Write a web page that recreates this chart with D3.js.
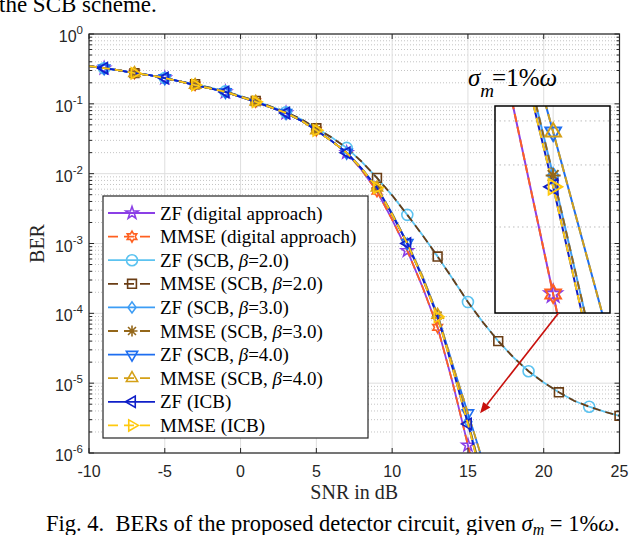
<!DOCTYPE html>
<html>
<head>
<meta charset="utf-8">
<script src="https://cdn.jsdelivr.net/npm/d3@7"></script>
<style>
  body { margin: 0; background: #fff; }
  svg { display: block; }
</style>
</head>
<body>
<div id="chart"></div>
<script>
// tick values
var xTicks = [-10, -5, 0, 5, 10, 15, 20, 25];
var yTickExp = [0, -1, -2, -3, -4, -5, -6];

// SNR points of the steep curves (dB)
var snrA = [-10, -9, -8, -7, -6, -5, -4, -3, -2, -1, 0, 1, 2, 3, 4, 5, 6, 7, 8, 9, 10, 11, 12, 13, 14, 15, 16];
// SNR points of the beta=2 curves (dB)
var snrB = [-10, -9, -8, -7, -6, -5, -4, -3, -2, -1, 0, 1, 2, 3, 4, 5, 6, 7, 8, 9, 10, 11, 12, 13, 14, 15, 16, 17, 18, 19, 20, 21, 22, 23, 24, 25];

// BER values
var berZfDigital   = [0.347, 0.324, 0.302, 0.275, 0.257, 0.234, 0.209, 0.186, 0.166, 0.148, 0.126, 0.107, 0.0891, 0.0741, 0.0575, 0.0417, 0.0295, 0.0200, 0.0112, 5.6e-3, 2.2e-3, 7.9e-4, 2.4e-4, 6.3e-5, 1.0e-5, 1.29e-6, 1.6e-7];
var berMmseDigital = [0.347, 0.324, 0.302, 0.275, 0.257, 0.234, 0.209, 0.186, 0.166, 0.148, 0.126, 0.107, 0.0891, 0.0741, 0.0575, 0.0417, 0.0295, 0.0200, 0.0112, 5.6e-3, 2.2e-3, 7.9e-4, 2.4e-4, 6.3e-5, 1.0e-5, 1.29e-6, 1.6e-7];
var berZfB2   = [0.347, 0.324, 0.302, 0.275, 0.257, 0.234, 0.209, 0.191, 0.170, 0.151, 0.129, 0.110, 0.0912, 0.0759, 0.0603, 0.0447, 0.0331, 0.0234, 0.0148, 8.7e-3, 4.9e-3, 2.57e-3, 1.32e-3, 6.5e-4, 3.1e-4, 1.45e-4, 7.4e-5, 4.0e-5, 2.34e-5, 1.48e-5, 1.02e-5, 7.4e-6, 5.6e-6, 4.6e-6, 3.9e-6, 3.4e-6];
var berMmseB2 = [0.347, 0.324, 0.302, 0.275, 0.257, 0.234, 0.209, 0.191, 0.170, 0.151, 0.129, 0.110, 0.0912, 0.0759, 0.0603, 0.0447, 0.0331, 0.0234, 0.0148, 8.7e-3, 4.9e-3, 2.57e-3, 1.32e-3, 6.5e-4, 3.1e-4, 1.45e-4, 7.4e-5, 4.0e-5, 2.34e-5, 1.48e-5, 1.02e-5, 7.4e-6, 5.6e-6, 4.6e-6, 3.9e-6, 3.4e-6];
var berZfB3   = [0.347, 0.324, 0.302, 0.275, 0.257, 0.234, 0.209, 0.186, 0.166, 0.148, 0.126, 0.107, 0.0891, 0.0741, 0.0575, 0.0417, 0.0295, 0.0200, 0.0117, 6.3e-3, 2.6e-3, 1.0e-3, 3.24e-4, 9.3e-5, 1.7e-5, 2.8e-6, 4.2e-7];
var berMmseB3 = [0.347, 0.324, 0.302, 0.275, 0.257, 0.234, 0.209, 0.186, 0.166, 0.148, 0.126, 0.107, 0.0891, 0.0741, 0.0575, 0.0417, 0.0295, 0.0200, 0.0117, 6.3e-3, 2.6e-3, 1.0e-3, 3.24e-4, 9.3e-5, 1.7e-5, 2.8e-6, 4.2e-7];
var berZfB4   = [0.347, 0.324, 0.302, 0.275, 0.257, 0.234, 0.209, 0.186, 0.166, 0.148, 0.126, 0.107, 0.0891, 0.0741, 0.0575, 0.0417, 0.0295, 0.0200, 0.0117, 6.3e-3, 2.7e-3, 1.02e-3, 3.4e-4, 9.5e-5, 1.82e-5, 3.72e-6, 7.4e-7];
var berMmseB4 = [0.347, 0.324, 0.302, 0.275, 0.257, 0.234, 0.209, 0.186, 0.166, 0.148, 0.126, 0.107, 0.0891, 0.0741, 0.0575, 0.0417, 0.0295, 0.0200, 0.0117, 6.3e-3, 2.7e-3, 1.02e-3, 3.4e-4, 9.5e-5, 1.82e-5, 3.72e-6, 7.4e-7];
var berZfIcb   = [0.347, 0.324, 0.302, 0.275, 0.257, 0.234, 0.209, 0.186, 0.166, 0.148, 0.126, 0.107, 0.0891, 0.0741, 0.0575, 0.0417, 0.0295, 0.0200, 0.0117, 6.3e-3, 2.6e-3, 1.0e-3, 3.2e-4, 8.9e-5, 1.6e-5, 2.6e-6, 3.8e-7];
var berMmseIcb = [0.347, 0.324, 0.302, 0.275, 0.257, 0.234, 0.209, 0.186, 0.166, 0.148, 0.126, 0.107, 0.0891, 0.0741, 0.0575, 0.0417, 0.0295, 0.0200, 0.0117, 6.3e-3, 2.6e-3, 1.0e-3, 3.2e-4, 8.9e-5, 1.6e-5, 2.6e-6, 3.8e-7];

// where the markers sit (every 4 dB, ZF and MMSE shifted)
var zfMarks = [-9, -5, -1, 3, 7, 11, 15];
var mmseMarks = [-7, -3, 1, 5, 9, 13];
var zfB2Marks = [-9, -5, -1, 3, 7, 11, 15, 19, 23];
var mmseB2Marks = [-7, -3, 1, 5, 9, 13, 17, 21, 25];

// legend labels
var labelDet = ["ZF", "MMSE", "ZF", "MMSE", "ZF", "MMSE", "ZF", "MMSE", "ZF", "MMSE"];
var labelRest = [" (digital approach)", " (digital approach)", " (SCB, ", " (SCB, ", " (SCB, ", " (SCB, ", " (SCB, ", " (SCB, ", " (ICB)", " (ICB)"];
var labelBeta = [null, null, "2.0", "2.0", "3.0", "3.0", "4.0", "4.0", null, null];

// inset zoom window and annotation
var insetSnr = [14.13, 15.85];
var insetBer = [1.14e-6, 4.41e-6];
var insetGridBer = [2e-6, 3e-6, 4e-6];
var insetMarkSnr = 15;
var arrowTip = {snr: 15.8, ber: 3.7e-6};

var series = [
  {x: snrA, y: berZfDigital,   color: "#8b3fe6", dash: null, marker: "star",     marks: zfMarks},
  {x: snrA, y: berMmseDigital, color: "#ff6020", dash: "8,5", marker: "hexagram", marks: mmseMarks},
  {x: snrB, y: berZfB2,        color: "#5cc3f0", dash: null, marker: "circle",   marks: zfB2Marks},
  {x: snrB, y: berMmseB2,      color: "#6a3d14", dash: "8,5", marker: "square",   marks: mmseB2Marks},
  {x: snrA, y: berZfB3,        color: "#3d9df5", dash: null, marker: "diamond",  marks: zfMarks},
  {x: snrA, y: berMmseB3,      color: "#94671a", dash: "8,5", marker: "asterisk", marks: mmseMarks},
  {x: snrA, y: berZfB4,        color: "#1e6ef0", dash: null, marker: "tridown",  marks: zfMarks},
  {x: snrA, y: berMmseB4,      color: "#d4a017", dash: "8,5", marker: "triup",    marks: mmseMarks},
  {x: snrA, y: berZfIcb,       color: "#0f1fc8", dash: null, marker: "trileft",  marks: zfMarks},
  {x: snrA, y: berMmseIcb,     color: "#ffc90e", dash: "8,5", marker: "triright", marks: mmseMarks}
];

// marker outlines like matlab's
function markerPath(type, r) {
  var pts = [], i, a, rr;
  if (type == "circle") {
    return "M" + (-r) + ",0A" + r + "," + r + " 0 1,0 " + r + ",0A" + r + "," + r + " 0 1,0 " + (-r) + ",0Z";
  }
  if (type == "square") {
    var s = r * 0.8;
    return "M" + (-s) + "," + (-s) + "H" + s + "V" + s + "H" + (-s) + "Z";
  }
  if (type == "diamond") {
    return "M0," + (-r) + "L" + (r * 0.72) + ",0L0," + r + "L" + (-r * 0.72) + ",0Z";
  }
  if (type == "asterisk") {
    var d = r * 0.72;
    return "M" + (-r) + ",0H" + r + "M0," + (-r) + "V" + r +
      "M" + (-d) + "," + (-d) + "L" + d + "," + d + "M" + (-d) + "," + d + "L" + d + "," + (-d);
  }
  if (type == "star" || type == "hexagram") {
    var n = type == "star" ? 5 : 6;
    var inner = type == "star" ? 0.4 : 0.58;
    for (i = 0; i < 2 * n; i++) {
      a = -Math.PI / 2 + i * Math.PI / n;
      rr = i % 2 ? r * inner : r;
      pts.push([rr * Math.cos(a), rr * Math.sin(a)]);
    }
    return "M" + pts.join("L") + "Z";
  }
  var rot = {triup: -90, tridown: 90, trileft: 180, triright: 0}[type];
  for (i = 0; i < 3; i++) {
    a = (rot + i * 120) * Math.PI / 180;
    pts.push([r * Math.cos(a), r * Math.sin(a)]);
  }
  return "M" + pts.join("L") + "Z";
}

var svgWidth = 640;
var svgHeight = 535;

var plot = {left: 89, right: 619.5, top: 34, bottom: 453};

var svg = d3.select("#chart")
  .append("svg")
  .attr("width", svgWidth)
  .attr("height", svgHeight);

var serif = "'Liberation Serif', 'Times New Roman', serif";
var sans = "'Liberation Sans', Arial, Helvetica, sans-serif";

var xScale = d3.scaleLinear().domain([-10, 25]).range([plot.left, plot.right]);
var yScale = d3.scaleLog().domain([1e-6, 1]).range([plot.bottom, plot.top]);

// captions from the paper around the figure (cut by the page edge, as in the scan)
svg.append("text")
  .attr("x", -1).attr("y", 12)
  .style("font-family", serif).style("font-size", "23px")
  .text("the SCB scheme.");

var cap = svg.append("text")
  .attr("x", 46).attr("y", 531)
  .style("font-family", serif).style("font-size", "22.5px")
  .style("white-space", "pre");
cap.append("tspan").text("Fig. 4.  BERs of the proposed detector circuit, given ");
cap.append("tspan").style("font-style", "italic").text("σ");
cap.append("tspan").style("font-style", "italic").style("font-size", "16px").attr("dy", 4).text("m");
cap.append("tspan").attr("dy", -4).text(" = 1%");
cap.append("tspan").style("font-style", "italic").text("ω");
cap.append("tspan").text(".");

// grid
var minorBer = [];
yTickExp.forEach(function(e) {
  if (e == 0) return;
  [2, 3, 4, 5, 6, 7, 8, 9].forEach(function(m) { minorBer.push(m * Math.pow(10, e)); });
});

var grid = svg.append("g");
grid.selectAll(".ygminor")
  .data(minorBer)
  .enter()
  .append("line")
  .attr("x1", plot.left).attr("x2", plot.right)
  .attr("y1", d => yScale(d)).attr("y2", d => yScale(d))
  .attr("stroke", "#c4c4c4")
  .attr("stroke-width", 1)
  .attr("stroke-dasharray", "1,2");

grid.selectAll(".ygmajor")
  .data(yTickExp)
  .enter()
  .append("line")
  .attr("x1", plot.left).attr("x2", plot.right)
  .attr("y1", d => yScale(Math.pow(10, d))).attr("y2", d => yScale(Math.pow(10, d)))
  .attr("stroke", "#dedede");

grid.selectAll(".xg")
  .data(xTicks)
  .enter()
  .append("line")
  .attr("x1", d => xScale(d)).attr("x2", d => xScale(d))
  .attr("y1", plot.top).attr("y2", plot.bottom)
  .attr("stroke", "#dedede");

svg.append("clipPath")
  .attr("id", "plotclip")
  .append("rect")
  .attr("x", plot.left).attr("y", plot.top)
  .attr("width", plot.right - plot.left).attr("height", plot.bottom - plot.top);

var curves = svg.append("g").attr("clip-path", "url(#plotclip)");

var lineMain = function(s) {
  return d3.line()
    .x(function(d, i) { return xScale(s.x[i]); })
    .y(function(d) { return yScale(d); })(s.y);
};

series.forEach(function(s) {
  curves.append("path")
    .attr("d", lineMain(s))
    .attr("fill", "none")
    .attr("stroke", s.color)
    .attr("stroke-width", 1.8)
    .attr("stroke-dasharray", s.dash);

  curves.selectAll(null)
    .data(s.marks)
    .enter()
    .append("path")
    .attr("transform", function(m) {
      return "translate(" + xScale(m) + "," + yScale(s.y[s.x.indexOf(m)]) + ")";
    })
    .attr("d", markerPath(s.marker, s.marker == "star" || s.marker.indexOf("tri") == 0 ? 6.5 : 5.5))
    .attr("fill", "none")
    .attr("stroke", s.color)
    .attr("stroke-width", 1.6);
});

// axes box with inward ticks on all four sides
var axisColor = "#262626";
var axes = svg.append("g");

axes.append("rect")
  .attr("x", plot.left).attr("y", plot.top)
  .attr("width", plot.right - plot.left).attr("height", plot.bottom - plot.top)
  .attr("fill", "none")
  .attr("stroke", axisColor)
  .attr("stroke-width", 1.2);

xTicks.forEach(function(t) {
  axes.append("line")
    .attr("x1", xScale(t)).attr("x2", xScale(t))
    .attr("y1", plot.bottom).attr("y2", plot.bottom - 5)
    .attr("stroke", axisColor);
  axes.append("line")
    .attr("x1", xScale(t)).attr("x2", xScale(t))
    .attr("y1", plot.top).attr("y2", plot.top + 5)
    .attr("stroke", axisColor);
  axes.append("text")
    .attr("x", xScale(t)).attr("y", plot.bottom + 24)
    .attr("text-anchor", "middle")
    .style("font-family", sans).style("font-size", "16px")
    .attr("fill", axisColor)
    .text(t);
});

yTickExp.forEach(function(e) {
  var yy = yScale(Math.pow(10, e));
  axes.append("line")
    .attr("x1", plot.left).attr("x2", plot.left + 5)
    .attr("y1", yy).attr("y2", yy)
    .attr("stroke", axisColor);
  axes.append("line")
    .attr("x1", plot.right).attr("x2", plot.right - 5)
    .attr("y1", yy).attr("y2", yy)
    .attr("stroke", axisColor);
  var lbl = axes.append("text")
    .attr("x", plot.left - 6).attr("y", yy + 8)
    .attr("text-anchor", "end")
    .style("font-family", sans).style("font-size", "16px")
    .attr("fill", axisColor);
  lbl.append("tspan").text("10");
  lbl.append("tspan").attr("dy", -8).style("font-size", "11.5px").text(e);
});

minorBer.forEach(function(b) {
  var yy = yScale(b);
  axes.append("line")
    .attr("x1", plot.left).attr("x2", plot.left + 3)
    .attr("y1", yy).attr("y2", yy)
    .attr("stroke", axisColor);
  axes.append("line")
    .attr("x1", plot.right).attr("x2", plot.right - 3)
    .attr("y1", yy).attr("y2", yy)
    .attr("stroke", axisColor);
});

// axis titles
svg.append("text")
  .attr("x", (plot.left + plot.right) / 2).attr("y", plot.bottom + 46)
  .attr("text-anchor", "middle")
  .style("font-family", serif).style("font-size", "20px")
  .attr("fill", axisColor)
  .text("SNR in dB");

svg.append("text")
  .attr("transform", "translate(44," + ((plot.top + plot.bottom) / 2) + ") rotate(-90)")
  .attr("text-anchor", "middle")
  .style("font-family", serif).style("font-size", "20px")
  .attr("fill", axisColor)
  .text("BER");

// legend
var leg = {x: 103, y: 196, w: 265, h: 242, rowY: 213, rowH: 23.6};
var legend = svg.append("g");
legend.append("rect")
  .attr("x", leg.x).attr("y", leg.y)
  .attr("width", leg.w).attr("height", leg.h)
  .attr("fill", "#fff")
  .attr("stroke", axisColor)
  .attr("stroke-width", 1.2);

series.forEach(function(s, i) {
  var yy = leg.rowY + i * leg.rowH;
  legend.append("line")
    .attr("x1", leg.x + 5).attr("x2", leg.x + 52)
    .attr("y1", yy).attr("y2", yy)
    .attr("stroke", s.color)
    .attr("stroke-width", 1.8)
    .attr("stroke-dasharray", s.dash ? "10,6" : null);
  legend.append("path")
    .attr("transform", "translate(" + (leg.x + 29) + "," + yy + ")")
    .attr("d", markerPath(s.marker, s.marker == "star" || s.marker.indexOf("tri") == 0 ? 6.5 : 5.5))
    .attr("fill", "none")
    .attr("stroke", s.color)
    .attr("stroke-width", 1.6);
  var t = legend.append("text")
    .attr("x", leg.x + 57).attr("y", yy + 6.5)
    .style("font-family", serif).style("font-size", "19px")
    .attr("fill", "#000");
  t.append("tspan").text(labelDet[i] + labelRest[i]);
  if (labelBeta[i]) {
    t.append("tspan").style("font-style", "italic").text("β");
    t.append("tspan").text("=" + labelBeta[i] + ")");
  }
});

// zoomed inset around SNR = 15 dB
var ins = {x: 495, y: 106, w: 115, h: 207};
var ix = d3.scaleLinear().domain(insetSnr).range([ins.x, ins.x + ins.w]);
var iy = d3.scaleLog().domain(insetBer).range([ins.y + ins.h, ins.y]);

var inset = svg.append("g");
inset.append("rect")
  .attr("x", ins.x).attr("y", ins.y)
  .attr("width", ins.w).attr("height", ins.h)
  .attr("fill", "#fff");

svg.append("clipPath")
  .attr("id", "insetclip")
  .append("rect")
  .attr("x", ins.x).attr("y", ins.y)
  .attr("width", ins.w).attr("height", ins.h);

var insetInner = inset.append("g").attr("clip-path", "url(#insetclip)");

insetInner.selectAll(".ig")
  .data(insetGridBer)
  .enter()
  .append("line")
  .attr("x1", ins.x).attr("x2", ins.x + ins.w)
  .attr("y1", d => iy(d)).attr("y2", d => iy(d))
  .attr("stroke", "#bdbdbd")
  .attr("stroke-dasharray", "1.5,3");

insetInner.append("line")
  .attr("x1", ix(insetMarkSnr)).attr("x2", ix(insetMarkSnr))
  .attr("y1", ins.y).attr("y2", ins.y + ins.h)
  .attr("stroke", "#dedede");

var insetSeries = series.filter(function(s) { return s.x === snrA; });

insetSeries.forEach(function(s) {
  insetInner.append("path")
    .attr("d", d3.line()
      .x(function(d, i) { return ix(s.x[i]); })
      .y(function(d) { return iy(d); })(s.y))
    .attr("fill", "none")
    .attr("stroke", s.color)
    .attr("stroke-width", 2)
    .attr("stroke-dasharray", s.dash);
});

insetSeries.forEach(function(s) {
  var b = s.y[s.x.indexOf(insetMarkSnr)];
  insetInner.append("path")
    .attr("transform", "translate(" + ix(insetMarkSnr) + "," + iy(b) + ")")
    .attr("d", markerPath(s.marker, s.marker == "diamond" || s.marker == "asterisk" ? 7.5 : 9))
    .attr("fill", "none")
    .attr("stroke", s.color)
    .attr("stroke-width", 2);
});

inset.append("rect")
  .attr("x", ins.x).attr("y", ins.y)
  .attr("width", ins.w).attr("height", ins.h)
  .attr("fill", "none")
  .attr("stroke", "#000")
  .attr("stroke-width", 1.5);

// red arrow from the inset to the zoomed spot
var ax1 = ix(15.08), ay1 = ins.y + ins.h;
var ax2 = xScale(arrowTip.snr), ay2 = yScale(arrowTip.ber);
var ang = Math.atan2(ay2 - ay1, ax2 - ax1);
var headLen = 11, headW = 4.5;
var bx = ax2 - headLen * Math.cos(ang), by = ay2 - headLen * Math.sin(ang);

svg.append("line")
  .attr("x1", ax1).attr("y1", ay1)
  .attr("x2", bx).attr("y2", by)
  .attr("stroke", "#c8100c")
  .attr("stroke-width", 1.6);

svg.append("path")
  .attr("d", "M" + ax2 + "," + ay2 +
    "L" + (bx + headW * Math.sin(ang)) + "," + (by - headW * Math.cos(ang)) +
    "L" + (bx - headW * Math.sin(ang)) + "," + (by + headW * Math.cos(ang)) + "Z")
  .attr("fill", "#c8100c");

// sigma_m label above the inset
var sig = svg.append("text")
  .attr("x", 468).attr("y", 86)
  .style("font-family", serif).style("font-size", "25px")
  .attr("fill", "#000");
sig.append("tspan").style("font-style", "italic").text("σ");
sig.append("tspan").style("font-style", "italic").style("font-size", "19px").attr("dy", 11).text("m");
sig.append("tspan").attr("dy", -11).attr("dx", -2).text("=1%");
sig.append("tspan").style("font-style", "italic").text("ω");
</script>
</body>
</html>
